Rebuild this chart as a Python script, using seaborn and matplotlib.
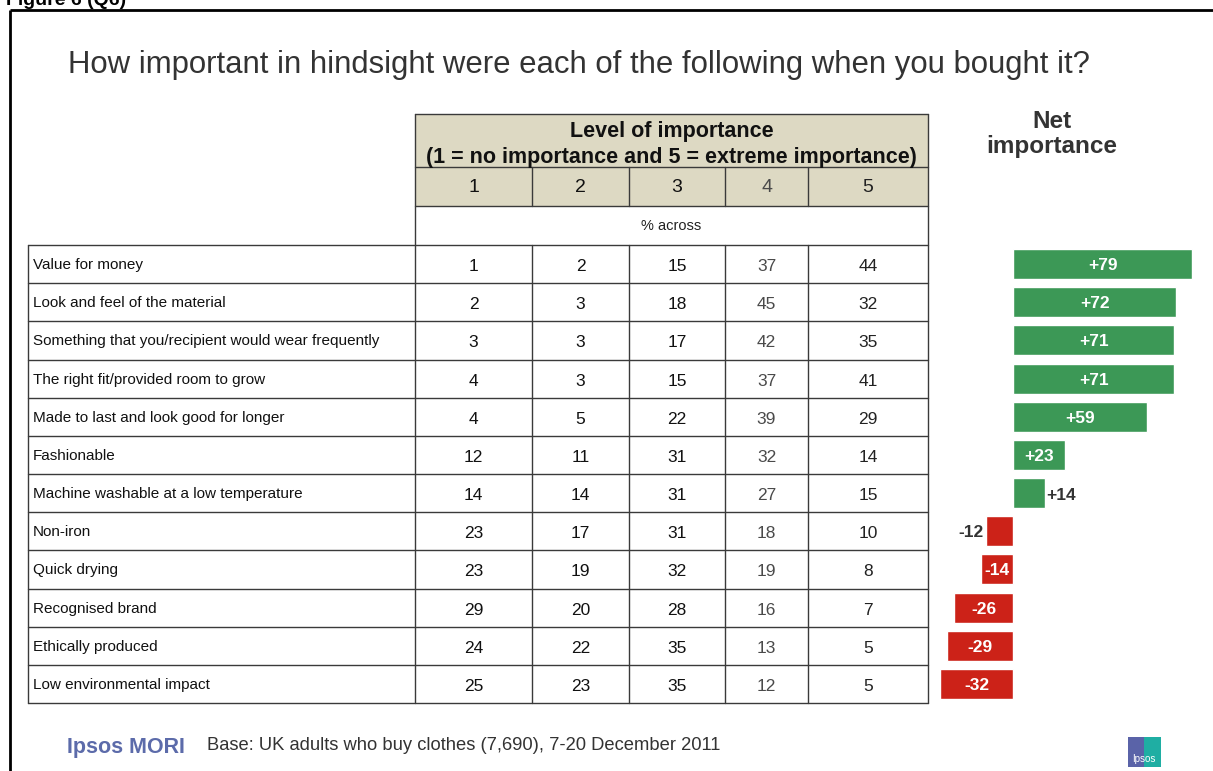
import numpy as np
import pandas as pd
import matplotlib
matplotlib.use("Agg")
import matplotlib.pyplot as plt
from matplotlib.patches import Rectangle
import seaborn as sns

# ---- data ----
items = [
    "Value for money",
    "Look and feel of the material",
    "Something that you/recipient would wear frequently",
    "The right fit/provided room to grow",
    "Made to last and look good for longer",
    "Fashionable",
    "Machine washable at a low temperature",
    "Non-iron",
    "Quick drying",
    "Recognised brand",
    "Ethically produced",
    "Low environmental impact",
]
level_labels = ["1", "2", "3", "4", "5"]
score_1 = [1, 2, 3, 4, 4, 12, 14, 23, 23, 29, 24, 25]
score_2 = [2, 3, 3, 3, 5, 11, 14, 17, 19, 20, 22, 23]
score_3 = [15, 18, 17, 15, 22, 31, 31, 31, 32, 28, 35, 35]
score_4 = [37, 45, 42, 37, 39, 32, 27, 18, 19, 16, 13, 12]
score_5 = [44, 32, 35, 41, 29, 14, 15, 10, 8, 7, 5, 5]
net_importance = [79, 72, 71, 71, 59, 23, 14, -12, -14, -26, -29, -32]

title = "How important in hindsight were each of the following when you bought it?"
header_line1 = "Level of importance"
header_line2 = "(1 = no importance and 5 = extreme importance)"

sns.set_theme(style="white")
plt.rcParams["font.family"] = ["Liberation Sans", "DejaVu Sans"]

W, H = 1213, 771
fig = plt.figure(figsize=(W / 100, H / 100), dpi=100)
fig.patch.set_facecolor("white")

# full-figure canvas in pixel units for the table and page furniture
ax0 = fig.add_axes([0, 0, 1, 1])
ax0.set_xlim(0, W)
ax0.set_ylim(H, 0)
ax0.axis("off")

# page frame and figure caption
ax0.plot([10, W], [10, 10], color="black", lw=2, solid_capstyle="butt")
ax0.plot([10, 10], [10, H], color="black", lw=2, solid_capstyle="butt")
ax0.text(6, 5, "Figure 6 (Q6)", fontsize=14, fontweight="bold", color="black",
         ha="left", va="baseline")

ax0.text(68, 65, title, fontsize=22.4, color="#333333", ha="left", va="center")

# ---- table geometry ----
col_edges = [415, 532, 629, 725, 808, 928]
label_left = 28
y_head_top, y_num_top, y_pct_top, y_data_top, y_data_bot = 114, 167, 206, 245, 703
n = len(items)
row_h = (y_data_bot - y_data_top) / n
line_c = "#3a3a3a"
fill_c = "#DDD9C3"

# header fill
ax0.add_patch(Rectangle((col_edges[0], y_head_top), col_edges[-1] - col_edges[0],
                        y_pct_top - y_head_top, facecolor=fill_c, edgecolor="none", zorder=0))

# horizontal lines across the value columns (header)
for y in [y_head_top, y_num_top, y_pct_top]:
    ax0.plot([col_edges[0], col_edges[-1]], [y, y], color=line_c, lw=1)
# horizontal lines across label + value columns (data rows)
for i in range(n + 1):
    y = y_data_top + i * row_h
    ax0.plot([label_left, col_edges[-1]], [y, y], color=line_c, lw=1)
# vertical lines
ax0.plot([label_left, label_left], [y_data_top, y_data_bot], color=line_c, lw=1)
ax0.plot([col_edges[0], col_edges[0]], [y_head_top, y_data_bot], color=line_c, lw=1)
ax0.plot([col_edges[-1], col_edges[-1]], [y_head_top, y_data_bot], color=line_c, lw=1)
for x in col_edges[1:-1]:
    ax0.plot([x, x], [y_num_top, y_pct_top], color=line_c, lw=1)
    ax0.plot([x, x], [y_data_top, y_data_bot], color=line_c, lw=1)

mid_x = (col_edges[0] + col_edges[-1]) / 2
ax0.text(mid_x, 131, header_line1, fontsize=15.5, fontweight="bold", color="#111111",
         ha="center", va="center")
ax0.text(mid_x, 157, header_line2, fontsize=15.5, fontweight="bold", color="#111111",
         ha="center", va="center")
ax0.text(mid_x, (y_pct_top + y_data_top) / 2 + 1, "% across", fontsize=10.5,
         color="#222222", ha="center", va="center")

col_centers = [(col_edges[j] + col_edges[j + 1]) / 2 for j in range(5)]
col_colors = ["#111111", "#111111", "#111111", "#4a4a4a", "#222222"]
for j, lab in enumerate(level_labels):
    ax0.text(col_centers[j], (y_num_top + y_pct_top) / 2 + 1.5, lab, fontsize=14,
             color=col_colors[j], ha="center", va="center")

table_values = [score_1, score_2, score_3, score_4, score_5]
for i, name in enumerate(items):
    yc = y_data_top + (i + 0.5) * row_h
    ax0.text(label_left + 5, yc + 1, name, fontsize=11, color="#111111",
             ha="left", va="center")
    for j, col in enumerate(table_values):
        ax0.text(col_centers[j], yc + 2.5, str(col[i]), fontsize=12.5,
                 color=col_colors[j], ha="center", va="center")

ax0.text(1052, 121, "Net", fontsize=17.5, fontweight="bold", color="#333333",
         ha="center", va="center")
ax0.text(1052, 146, "importance", fontsize=17.5, fontweight="bold", color="#333333",
         ha="center", va="center")

# footer
ax0.text(67, 747, "Ipsos MORI", fontsize=15.5, fontweight="bold", color="#5C6BAA",
         ha="left", va="center")
ax0.text(207, 746, "Base: UK adults who buy clothes (7,690), 7-20 December 2011",
         fontsize=13.2, color="#333333", ha="left", va="center")
ax0.add_patch(Rectangle((1128, 737), 16, 30, facecolor="#5A63A8", edgecolor="none"))
ax0.add_patch(Rectangle((1144, 737), 17, 30, facecolor="#1FAEA3", edgecolor="none"))
ax0.text(1144, 759, "Ipsos", fontsize=7, color="white", ha="center", va="center")

# ---- net importance bars ----
df = pd.DataFrame({"item": items, "net": net_importance})
df["sign"] = np.where(df["net"] >= 0, "pos", "neg")

px_per_unit = 2.27
zero_px = 1013
bx0, bx1 = 930, W
axb = fig.add_axes([bx0 / W, (H - y_data_bot) / H, (bx1 - bx0) / W,
                    (y_data_bot - y_data_top) / H])
sns.barplot(data=df, y="item", x="net", hue="sign", order=items,
            palette={"pos": "#3C9856", "neg": "#CC2218"}, dodge=False,
            width=0.79, orient="h", legend=False, ax=axb, saturation=1)
axb.set_xlim((bx0 - zero_px) / px_per_unit, (bx1 - zero_px) / px_per_unit)
axb.set_ylim(n - 0.5, -0.5)
axb.axis("off")
axb.patch.set_alpha(0)

for i, v in enumerate(net_importance):
    lab = f"+{v}" if v > 0 else f"{v}"
    if v >= 20 or v <= -13:
        axb.text(v / 2, i + 0.04, lab, color="white", fontsize=12.5, fontweight="bold",
                 ha="center", va="center")
    elif v > 0:
        axb.text(v + 0.8, i + 0.06, lab, color="#333333", fontsize=12.5,
                 fontweight="bold", ha="left", va="center")
    else:
        axb.text(v - 0.8, i + 0.04, lab, color="#333333", fontsize=12.5,
                 fontweight="bold", ha="right", va="center")

fig.savefig("out.png", dpi=100, facecolor="white")
